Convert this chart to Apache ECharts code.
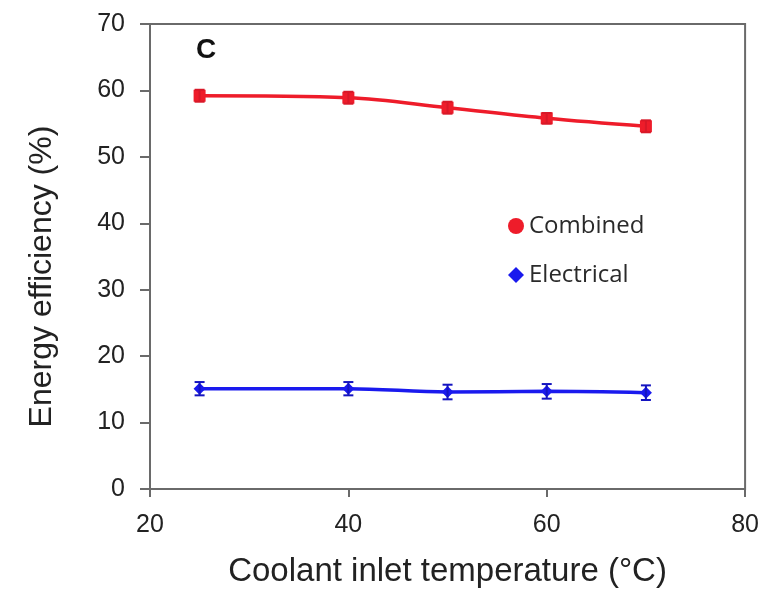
<!DOCTYPE html>
<html>
<head>
<meta charset="utf-8">
<script src="https://cdn.jsdelivr.net/npm/echarts@6/dist/echarts.min.js"></script>
<style>
  html, body { margin: 0; padding: 0; background: #fff; }
  #chart { width: 762px; height: 593px; }
</style>
</head>
<body>
<div id="chart"></div>
<script>
// Coolant inlet temperature (°C)
const temperatures = [25, 40, 50, 60, 70];
// Energy efficiency (%) and the half-width of each error bar
const combined = [59.2, 58.9, 57.4, 55.8, 54.6];
const combinedErr = [0.9, 0.9, 0.9, 0.8, 0.9];
const electrical = [15.1, 15.1, 14.6, 14.7, 14.5];
const electricalErr = [1.0, 1.0, 1.1, 1.1, 1.1];
const xTicks = [20, 40, 60, 80];
const yTicks = [0, 10, 20, 30, 40, 50, 60, 70];

const FONT = 'Liberation Sans, Arial, sans-serif';
const TEXT = '#222';
const AXIS = '#6a6a6a';
const RED = '#ee1c2a';
const BLUE = '#1a1aee';

function pairs(xs, ys) { return xs.map((x, i) => [x, ys[i]]); }

// Vertical error bars with short caps, placed through the value axes
function errorSeries(name, color, vals, errs) {
  return {
    name: name + ' error',
    type: 'custom',
    z: 4,
    data: temperatures.map((t, i) => [t, vals[i] - errs[i], vals[i] + errs[i]]),
    renderItem: function (params, api) {
      const lo = api.coord([api.value(0), api.value(1)]);
      const hi = api.coord([api.value(0), api.value(2)]);
      const w = 5;
      const style = { stroke: color, lineWidth: 2 };
      return {
        type: 'group',
        children: [
          { type: 'line', shape: { x1: lo[0], y1: lo[1], x2: hi[0], y2: hi[1] }, style },
          { type: 'line', shape: { x1: lo[0] - w, y1: lo[1], x2: lo[0] + w, y2: lo[1] }, style },
          { type: 'line', shape: { x1: hi[0] - w, y1: hi[1], x2: hi[0] + w, y2: hi[1] }, style }
        ]
      };
    }
  };
}

const chart = echarts.init(document.getElementById('chart'), null, { renderer: 'canvas' });
chart.setOption({
  animation: false,
  backgroundColor: '#fff',
  grid: {
    left: 150, right: 12, top: 24, bottom: 100,
    show: true, borderColor: AXIS, borderWidth: 2, backgroundColor: 'transparent'
  },
  legend: {
    orient: 'vertical',
    left: 503, top: 209,
    itemGap: 25,
    itemWidth: 16, itemHeight: 16,
    textStyle: { fontFamily: 'Open Sans, Lato, sans-serif', fontSize: 24, lineHeight: 23, color: '#2a2a2a' },
    data: [
      { name: 'Combined', icon: 'circle' },
      { name: 'Electrical', icon: 'diamond' }
    ]
  },
  graphic: [
    { type: 'text', left: 196, top: 36, style: { text: 'C', font: 'bold 28px ' + FONT, fill: '#111' } }
  ],
  xAxis: {
    type: 'value',
    min: 20, max: 80, interval: 20,
    name: 'Coolant inlet temperature (°C)',
    nameLocation: 'middle', nameGap: 66,
    nameTextStyle: { fontFamily: FONT, fontSize: 33, color: TEXT },
    axisLine: { show: true, lineStyle: { color: AXIS, width: 2 } },
    axisTick: { show: true, inside: false, length: 8, lineStyle: { color: AXIS, width: 2 } },
    axisLabel: { fontFamily: FONT, fontSize: 25, color: TEXT, margin: 24,
      formatter: v => xTicks.includes(v) ? String(v) : '' },
    splitLine: { show: false }
  },
  yAxis: {
    type: 'value',
    min: 0, max: 70, interval: 10,
    name: 'Energy efficiency (%)',
    nameLocation: 'middle', nameGap: 92, nameRotate: 90,
    nameTextStyle: { fontFamily: FONT, fontSize: 32, color: TEXT, padding: [0, 40, 0, 0] },
    axisLine: { show: true, lineStyle: { color: AXIS, width: 2 } },
    axisTick: { show: true, inside: false, length: 10, lineStyle: { color: AXIS, width: 2 } },
    axisLabel: { fontFamily: FONT, fontSize: 25, color: TEXT, margin: 25,
      formatter: v => yTicks.includes(v) ? String(v) : '' },
    splitLine: { show: false }
  },
  series: [
    {
      name: 'Combined', type: 'line', smooth: 0.35, z: 3,
      data: pairs(temperatures, combined),
      symbol: 'rect', symbolSize: 12,
      itemStyle: { color: RED },
      lineStyle: { color: RED, width: 3.5 }
    },
    errorSeries('Combined', '#d81828', combined, combinedErr),
    {
      name: 'Electrical', type: 'line', smooth: 0.35, z: 3,
      data: pairs(temperatures, electrical),
      symbol: 'diamond', symbolSize: 12,
      itemStyle: { color: BLUE },
      lineStyle: { color: BLUE, width: 3.5 }
    },
    errorSeries('Electrical', '#1414c0', electrical, electricalErr)
  ]
});
</script>
</body>
</html>
